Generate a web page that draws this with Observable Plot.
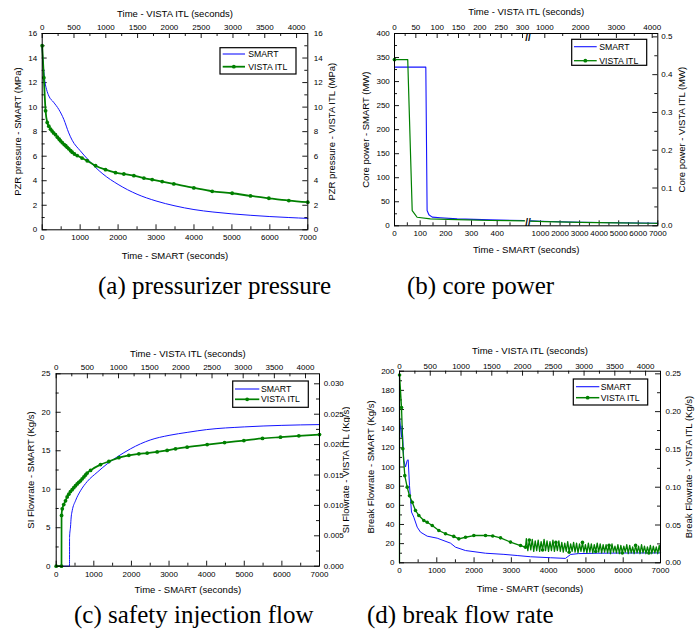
<!DOCTYPE html>
<html><head><meta charset="utf-8">
<script src="https://cdn.jsdelivr.net/npm/d3@7"></script>
<script src="https://cdn.jsdelivr.net/npm/@observablehq/plot@0.6"></script>
<style>
body{margin:0;background:#fff;}
#root{position:relative;width:699px;height:631px;overflow:hidden;background:#fff;}
</style></head>
<body><div id="root"></div>
<script>
// ---------- shared tick labels ----------
const smartTimeTicks = [0,1000,2000,3000,4000,5000,6000,7000];
const smartTimeMinor = [500,1500,2500,3500,4500,5500,6500];
const vistaTimeTicks = [0,500,1000,1500,2000,2500,3000,3500,4000];
const vistaTimeMinor = [250,750,1250,1750,2250,2750,3250,3750];

// ---------- (a) pressurizer pressure ----------
const smartTimeA = [0,26,70,114,176,300,440,570,700,790,1000,1200,1400,1600,2000,2500,3000,3500,4000,4500,5000,5500,6000,6500,7000];
const smartPressure = [14.8,13.5,12.1,11.45,10.9,10.4,9.8,9.0,7.9,7.3,6.45,5.75,5.1,4.55,3.7,2.9,2.35,1.95,1.65,1.45,1.3,1.18,1.08,1.0,0.93];
const vistaTimeA = [0,26,53,79,104,131,155,179,209,239,268,288,316,346,370,393,418,447,472,507,550,626,708,839,996,1153,1284,1442,1599,1730,1887,2070,2385,2673,2987,3276,3564,3878,4176];
const vistaPressure = [15.0,12.4,9.7,8.75,8.45,8.2,8.05,7.9,7.75,7.55,7.38,7.25,7.1,6.95,6.85,6.72,6.6,6.45,6.32,6.18,6.05,5.85,5.63,5.22,4.9,4.66,4.55,4.41,4.22,4.09,3.93,3.74,3.41,3.14,2.98,2.76,2.57,2.38,2.25];
const pressureTicks = [0,2,4,6,8,10,12,14,16];
const pressureMinor = [1,3,5,7,9,11,13,15];

// ---------- (b) core power (broken time axis) ----------
const smartTimeB1 = [0,122,127,134,147,179,244,374,505];
const smartPowerB1 = [330,330,32,23,18,16.6,14.5,12.4,11.0];
const smartTimeB2 = [500,1000,2000,3000,4000,5000,6000,7000];
const smartPowerB2 = [10.3,9.4,8.4,7.5,6.8,6.2,5.7,5.3];
const vistaTimeB1 = [0,31,41.5,53,84,147,225,305];
const vistaPowerB1 = [0.440,0.440,0.0403,0.0226,0.0184,0.0165,0.0140,0.0131];
const vistaTimeB2 = [600,1000,2000,3000,4000,4150];
const vistaPowerB2 = [0.0125,0.0112,0.0092,0.0078,0.0067,0.0066];
const powerTicks = [0,50,100,150,200,250,300,350,400];
const powerMinor = [25,75,125,175,225,275,325,375];
const vistaPowerTicks = [0,0.1,0.2,0.3,0.4,0.5];
const vistaPowerMinor = [0.05,0.15,0.25,0.35,0.45];
const bTimeTicksEarly = [0,100,200,300,400];
const bTimeMinorEarly = [50,150,250,350,450];
const bTimeTicksLate = [1000,2000,3000,4000,5000,6000,7000];
const bTimeMinorLate = [1500,2500,3500,4500,5500,6500];
const bVistaTicksEarly = [0,50,100,150,200,250,300];
const bVistaMinorEarly = [25,75,125,175,225,275];
const bVistaTicksLate = [1000,2000,3000,4000];
const bVistaMinorLate = [1500,2500,3500];

// ---------- (c) safety injection flow ----------
const smartTimeC = [0,354,355,380,399,425,513,646,824,1090,1356,1622,1975,2241,2500,3000,3500,4000,5000,6000,7000];
const smartSI = [0,0,3.77,5.1,6.4,7.2,8.5,9.8,11.0,12.2,13.3,14.2,15.25,15.9,16.4,17.0,17.4,17.75,18.1,18.3,18.4];
const vistaTimeC = [0,85,86,97,121,149,176,202,229,256,282,310,337,362,390,417,444,471,497,551,711,845,1005,1166,1326,1460,1620,1780,1914,2101,2422,2701,3011,3310,3599,3893,4224];
const vistaSI = [0,0,0.00835,0.00943,0.01013,0.01076,0.01139,0.01184,0.01228,0.01259,0.01291,0.01323,0.01354,0.0138,0.01405,0.01437,0.01468,0.015,0.01532,0.01576,0.01671,0.01722,0.01785,0.01823,0.01848,0.01861,0.0188,0.01905,0.0193,0.01958,0.02,0.02034,0.02067,0.02101,0.02123,0.02144,0.02165];
const siTicks = [0,5,10,15,20,25];
const siMinor = [2.5,7.5,12.5,17.5,22.5];
const vistaSITicks = [0,0.005,0.01,0.015,0.02,0.025,0.03];
const vistaSIMinor = [0.0025,0.0075,0.0125,0.0175,0.0225,0.0275];

// ---------- (d) break flow rate ----------
const smartTimeD = [0,54,72,116,161,207,233,268,322,384,475,563,743,1011,1368,1502,1770,2307,2800,3156,3514,4050,4450,4590,4800,5302,6000,7000];
const smartBreak = [152,131,143,107,100,107,107.5,80.7,53,47.6,37.2,32,27.8,25.7,20.5,16.3,12.8,10.0,8.8,7.6,6.3,5.3,4.6,8.7,9.6,10.0,10.2,10.3];
const vistaTimeD = [0,1,33,54,86,125,162,207,260,314,395,450,532,639,748,882,964,1073,1208,1398,1515,1642,1804,1967,2048,
  2062,2086,2110,2134,2158,2182,2206,2230,2254,2278,2302,2326,2350,2374,2398,2422,2446,2470,2494,2518,2542,2566,2590,2614,
  2638,2662,2686,2710,2734,2758,2782,2806,2830,2854,2878,2902,2926,2950,2974,2998,3022,3046,3070,3094,3118,3142,3166,3190,3214,3238,3262,3286,3310,3334,
  3358,3382,3406,3430,3454,3478,3502,3526,3550,3574,3598,3622,3646,3670,3694,3718,3742,3766,3790,3814,3838,3862,3886,3910,3934,3958,3982,4006,4030,4054,4078,4102,4126,4150,4174,4198,4222,4242];
const vistaBreak = [0,0.2484,0.2053,0.1508,0.1153,0.1001,0.0887,0.0801,0.0692,0.0626,0.0560,0.0537,0.0493,0.0427,0.0384,0.0349,0.0317,0.0338,0.0361,0.0361,0.0355,0.0330,0.0274,0.0228,0.0207,
  0.032,0.016,0.030,0.017,0.031,0.015,0.029,0.016,0.030,0.015,0.028,0.017,0.031,0.016,0.029,0.015,0.028,0.016,0.030,0.015,0.027,0.016,0.029,0.015,
  0.027,0.014,0.026,0.015,0.028,0.014,0.025,0.015,0.027,0.014,0.026,0.013,0.025,0.015,0.027,0.014,0.024,0.013,0.026,0.014,0.025,0.013,0.024,0.015,0.026,0.014,0.025,0.013,0.024,0.014,
  0.024,0.013,0.023,0.012,0.025,0.014,0.022,0.013,0.024,0.012,0.023,0.013,0.022,0.014,0.024,0.012,0.023,0.013,0.021,0.012,0.023,0.013,0.022,0.012,0.024,0.013,0.022,0.012,0.021,0.013,0.023,0.012,0.022,0.013,0.021,0.012,0.023,0.013];
const breakTicks = [0,20,40,60,80,100,120,140,160,180,200];
const breakMinor = [10,30,50,70,90,110,130,150,170,190];
const vistaBreakTicks = [0,0.05,0.1,0.15,0.2,0.25];
const vistaBreakMinor = [0.025,0.075,0.125,0.175,0.225];

// ---------- styling / helpers ----------
const FONT = "'Liberation Sans', Arial, Helvetica, sans-serif";
const SERIF = "'Liberation Serif', 'Times New Roman', serif";
const BLUE = "#1414ff", GREEN = "#008000";
const zip = (ts, vs) => ts.map((t, i) => ({t, v: vs[i]}));
const root = document.getElementById("root");

function buildPanel(o) {
  const fw = o.width - o.mL - o.mR, fh = o.height - o.mT - o.mB;
  const [x0, x1] = o.xDomain, [y0, y1] = o.yDomain;
  const ux = (x1 - x0) / fw, uy = (y1 - y0) / fh;
  const T = {fill: "black", fontFamily: FONT, fontSize: 8};
  const marks = [];
  for (const g of o.xTicks) {
    const a = g.side === "bottom" ? y0 : y1;
    const b = g.side === "bottom" ? y0 + g.len * uy : y1 - g.len * uy;
    marks.push(Plot.ruleX(g.values, {x: g.at, y1: a, y2: b, stroke: "black", strokeWidth: 0.9}));
    if (g.label) marks.push(Plot.text(g.values, {x: g.at, frameAnchor: g.side, dy: g.off, textAnchor: "middle", text: g.label, ...T}));
  }
  for (const g of o.yTicks) {
    const a = g.side === "left" ? x0 : x1;
    const b = g.side === "left" ? x0 + g.len * ux : x1 - g.len * ux;
    marks.push(Plot.ruleY(g.values, {y: g.at, x1: a, x2: b, stroke: "black", strokeWidth: 0.9}));
    if (g.label) marks.push(Plot.text(g.values, {y: g.at, frameAnchor: g.side, dx: g.off, textAnchor: g.side === "left" ? "end" : "start", text: g.label, ...T}));
  }
  const TT = {fill: "black", fontFamily: FONT, fontSize: 9.5, text: d => d, textAnchor: "middle", lineAnchor: "middle"};
  marks.push(Plot.text([o.titles[0]], {frameAnchor: "top", dy: o.tOff[0], ...TT}));
  marks.push(Plot.text([o.titles[1]], {frameAnchor: "bottom", dy: o.tOff[1], ...TT}));
  marks.push(Plot.text([o.titles[2]], {frameAnchor: "left", dx: o.tOff[2], rotate: -90, ...TT}));
  marks.push(Plot.text([o.titles[3]], {frameAnchor: "right", dx: o.tOff[3], rotate: -90, ...TT}));
  marks.push(...o.data);
  marks.push(Plot.frame({stroke: "black", strokeWidth: 1}));
  marks.push(...(o.extra || []));
  const svg = Plot.plot({
    width: o.width, height: o.height,
    marginLeft: o.mL, marginRight: o.mR, marginTop: o.mT, marginBottom: o.mB,
    x: {domain: o.xDomain, axis: null},
    y: {domain: o.yDomain, axis: null},
    style: {background: "transparent", overflow: o.clip ? "hidden" : "visible", fontFamily: FONT},
    marks
  });
  const div = document.createElement("div");
  div.style.cssText = `position:absolute;left:${o.left}px;top:${o.top}px;width:${o.width}px;height:${o.height}px;${o.clip ? "overflow:hidden;" : ""}`;
  div.appendChild(svg);
  root.appendChild(div);
}
const str = d => String(d);
function stdX(rT, off) {
  return [
    {values: smartTimeTicks, at: d => d, side: "bottom", len: 5, label: str, off: off[0]},
    {values: smartTimeMinor, at: d => d, side: "bottom", len: 3},
    {values: vistaTimeTicks, at: d => d * rT, side: "top", len: 5, label: str, off: off[1]},
    {values: vistaTimeMinor, at: d => d * rT, side: "top", len: 3}
  ];
}
function stdY(lt, lm, rt, rm, rV, fmt, off) {
  return [
    {values: lt, at: d => d, side: "left", len: 5, label: str, off: off[0]},
    {values: lm, at: d => d, side: "left", len: 3},
    {values: rt, at: d => d * rV, side: "right", len: 5, label: fmt, off: off[1]},
    {values: rm, at: d => d * rV, side: "right", len: 3}
  ];
}

// ---------- (a) ----------
{
  const rT = 1.676, rV = 1;
  const sm = zip(smartTimeA, smartPressure), vi = zip(vistaTimeA, vistaPressure);
  buildPanel({
    left: 0, top: 0, width: 349, height: 270, mL: 41.7, mR: 41.7, mT: 33, mB: 40.7,
    xDomain: [0, 7000], yDomain: [0, 16],
    xTicks: stdX(rT, [10, -9]),
    yTicks: stdY(pressureTicks, pressureMinor, pressureTicks, pressureMinor, rV, str, [-5, 6]),
    titles: ["Time - VISTA ITL (seconds)", "Time - SMART (seconds)", "PZR pressure - SMART (MPa)", "PZR pressure - VISTA ITL (MPa)"],
    tOff: [-20, 25.7, -24.7, 24.4],
    data: [
      Plot.line(sm, {x: "t", y: "v", stroke: BLUE, strokeWidth: 1, curve: "monotone-x"}),
      Plot.line(vi, {x: d => d.t * rT, y: d => d.v * rV, stroke: GREEN, strokeWidth: 1.8, curve: "monotone-x"}),
      Plot.dot(vi, {x: d => d.t * rT, y: d => d.v * rV, r: 1.9, fill: GREEN})
    ]
  });
}

// ---------- (b) ----------
{
  const rV = 786;
  const pBotEarly = s => s * 0.2567, pBotLate = s => 146 + (s - 1000) * 0.01955;
  const pTopEarly = v => v * 0.4267, pTopLate = v => 150.3 + (v - 1000) * 0.0358;
  const s1 = zip(smartTimeB1, smartPowerB1), s2 = zip(smartTimeB2, smartPowerB2);
  const v1 = zip(vistaTimeB1, vistaPowerB1), v2 = zip(vistaTimeB2, vistaPowerB2);
  const breakX = (pBotEarly(510) + pBotLate(500)) / 2;
  buildPanel({
    left: 350, top: 0, width: 349, height: 270, mL: 44, mR: 41.7, mT: 33, mB: 44.7,
    xDomain: [0, 263.3], yDomain: [0, 400],
    xTicks: [
      {values: bTimeTicksEarly, at: pBotEarly, side: "bottom", len: 5, label: str, off: 9.7},
      {values: bTimeMinorEarly, at: pBotEarly, side: "bottom", len: 3},
      {values: bTimeTicksLate, at: pBotLate, side: "bottom", len: 5, label: str, off: 9.7},
      {values: bTimeMinorLate, at: pBotLate, side: "bottom", len: 3},
      {values: bVistaTicksEarly, at: pTopEarly, side: "top", len: 5, label: str, off: -9},
      {values: bVistaMinorEarly, at: pTopEarly, side: "top", len: 3},
      {values: bVistaTicksLate, at: pTopLate, side: "top", len: 5, label: str, off: -9},
      {values: bVistaMinorLate, at: pTopLate, side: "top", len: 3}
    ],
    yTicks: stdY(powerTicks, powerMinor, vistaPowerTicks, vistaPowerMinor, rV, d => d.toFixed(1), [-4.7, 3.5]),
    titles: ["Time - VISTA ITL (seconds)", "Time - SMART (seconds)", "Core power - SMART (MW)", "Core power - VISTA ITL (MW)"],
    tOff: [-21.3, 24, -29, 23.7],
    data: [
      Plot.line(s1, {x: d => pBotEarly(d.t), y: "v", stroke: BLUE, strokeWidth: 1.1}),
      Plot.line(s2, {x: d => pBotLate(d.t), y: "v", stroke: BLUE, strokeWidth: 1.1}),
      Plot.line(v1, {x: d => pTopEarly(d.t), y: d => d.v * rV, stroke: GREEN, strokeWidth: 1.2}),
      Plot.line(v2, {x: d => pTopLate(d.t), y: d => d.v * rV, stroke: GREEN, strokeWidth: 1.2}),
      Plot.dot(v1.slice(0, 1), {x: d => pTopEarly(d.t), y: d => d.v * rV, r: 1.9, fill: GREEN})
    ],
    extra: [
      Plot.text(["//"], {x: () => breakX, frameAnchor: "bottom", text: d => d, textAnchor: "middle", fontSize: 10, fontWeight: "bold", fill: "black", fontFamily: FONT}),
      Plot.text(["//"], {x: () => breakX, frameAnchor: "top", text: d => d, textAnchor: "middle", fontSize: 10, fontWeight: "bold", fill: "black", fontFamily: FONT})
    ]
  });
}

// ---------- (c) ----------
{
  const rT = 1.657, rV = 790;
  const sm = zip(smartTimeC, smartSI), vi = zip(vistaTimeC, vistaSI);
  buildPanel({
    left: 0, top: 320, width: 350, height: 280, mL: 55.7, mR: 31, mT: 53.3, mB: 34.3, clip: true,
    xDomain: [0, 7000], yDomain: [0, 25],
    xTicks: stdX(rT, [10.3, -9]),
    yTicks: stdY(siTicks, siMinor, vistaSITicks, vistaSIMinor, rV, d => d.toFixed(3), [-5.7, 4.3]),
    titles: ["Time - VISTA ITL (seconds)", "Time - SMART (seconds)", "SI Flowrate - SMART (Kg/s)", "SI Flowrate - VISTA ITL (Kg/s)"],
    tOff: [-20.3, 23.3, -25.7, 26.5],
    data: [
      Plot.line(sm, {x: "t", y: "v", stroke: BLUE, strokeWidth: 1, curve: "monotone-x"}),
      Plot.line(vi, {x: d => d.t * rT, y: d => d.v * rV, stroke: GREEN, strokeWidth: 1.7, curve: "monotone-x"}),
      Plot.dot(vi, {x: d => d.t * rT, y: d => d.v * rV, r: 1.9, fill: GREEN})
    ]
  });
}

// ---------- (d) ----------
{
  const rT = 1.65, rV = 789;
  const sm = zip(smartTimeD, smartBreak), vi = zip(vistaTimeD, vistaBreak);
  buildPanel({
    left: 350, top: 320, width: 349, height: 280, mL: 49, mR: 39, mT: 50.7, mB: 37.7,
    xDomain: [0, 7000], yDomain: [0, 200],
    xTicks: stdX(rT, [10, -8]),
    yTicks: stdY(breakTicks, breakMinor, vistaBreakTicks, vistaBreakMinor, rV, d => d.toFixed(2), [-5, 5]),
    titles: ["Time - VISTA ITL (seconds)", "Time - SMART (seconds)", "Break Flowrate - SMART (Kg/s)", "Break Flowrate - VISTA ITL (Kg/s)"],
    tOff: [-20, 25.7, -29, 28.3],
    data: [
      Plot.line(sm, {x: "t", y: "v", stroke: BLUE, strokeWidth: 1}),
      Plot.line(vi, {x: d => d.t * rT, y: d => d.v * rV, stroke: GREEN, strokeWidth: 1.3}),
      Plot.dot(vi, {filter: (d, i) => i > 0 && (i < 25 || i % 9 === 0), x: d => d.t * rT, y: d => d.v * rV, r: 1.8, fill: GREEN})
    ]
  });
}

// ---------- legends and captions overlay ----------
const ov = d3.create("svg").attr("width", 699).attr("height", 631)
  .style("position", "absolute").style("left", "0px").style("top", "0px");
function drawLegend(box, ys, x1, x2, tx, gw) {
  ov.append("rect").attr("x", box[0]).attr("y", box[1]).attr("width", box[2]).attr("height", box[3])
    .attr("fill", "white").attr("stroke", "black").attr("stroke-width", 1.2);
  const rows = [{label: "SMART", color: BLUE, w: 1.1, m: false}, {label: "VISTA ITL", color: GREEN, w: gw, m: true}];
  rows.forEach((r, i) => {
    ov.append("line").attr("x1", x1).attr("x2", x2).attr("y1", ys[i]).attr("y2", ys[i]).attr("stroke", r.color).attr("stroke-width", r.w);
    if (r.m) ov.append("circle").attr("cx", (x1 + x2) / 2).attr("cy", ys[i]).attr("r", 1.9).attr("fill", r.color);
    ov.append("text").attr("x", tx).attr("y", ys[i] + 3.1).attr("font-size", 8.7).attr("font-family", FONT).attr("fill", "black").text(r.label);
  });
}
drawLegend([220, 47.7, 76, 26.3], [54, 66.7], 222.7, 245, 248.3, 1.8);
drawLegend([571.7, 39.3, 75, 26], [46.7, 60.7], 574, 596.7, 599.3, 1.3);
drawLegend([232.7, 381, 75.6, 26.3], [389, 399.3], 235, 259.3, 261, 1.7);
drawLegend([573.3, 379, 74.4, 26], [386.7, 397.7], 576, 599.3, 600.7, 1.5);
const captions = [["(a) pressurizer pressure", 98, 294], ["(b) core power", 407, 294], ["(c) safety injection flow", 74, 623], ["(d) break flow rate", 367, 623]];
for (const [t, x, y] of captions) {
  ov.append("text").attr("x", x).attr("y", y).attr("font-size", 25).attr("font-family", SERIF).attr("fill", "black").text(t);
}
root.appendChild(ov.node());
</script>
</body></html>
